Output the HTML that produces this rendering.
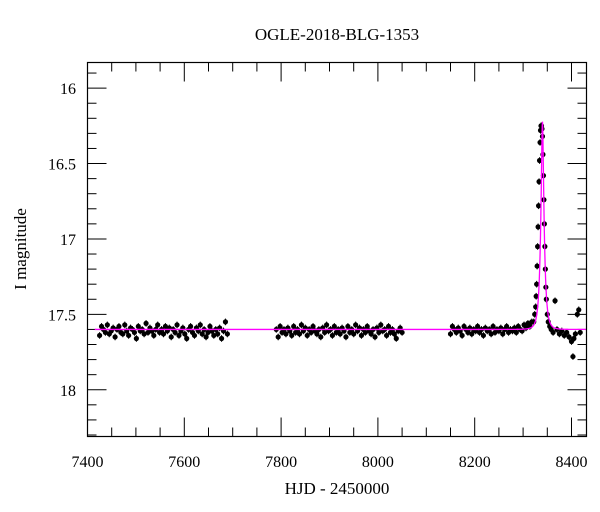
<!DOCTYPE html>
<html><head><meta charset="utf-8"><style>
html,body{margin:0;padding:0;background:#fff}
svg{display:block;font-family:"Liberation Serif",serif}
</style></head><body>
<svg id="chart" width="600" height="512" viewBox="0 0 600 512">
<text x="337" y="40" text-anchor="middle" font-size="17">OGLE-2018-BLG-1353</text>
<text x="337" y="494" text-anchor="middle" font-size="17">HJD - 2450000</text>
<text transform="translate(26,249) rotate(-90)" text-anchor="middle" font-size="17">I magnitude</text>
<g id="ticks"></g>
<g id="pts"></g>
<g id="model"></g>
<rect x="87.5" y="62.5" width="499" height="374" fill="none" stroke="#000" stroke-width="1.2"/>
</svg>
<script>
const xTicks=[7400,7600,7800,8000,8200,8400];
const yTicks=[16,16.5,17,17.5,18];
const seg1Start=7425, seg1Step=4;
const seg1Mag=[17.64,17.58,17.60,17.62,17.57,17.63,17.61,17.59,17.65,17.60,17.58,17.62,17.63,17.57,17.61,17.64,17.59,17.60,17.62,17.66,17.58,17.61,17.60,17.63,17.56,17.62,17.59,17.61,17.64,17.60,17.57,17.62,17.60,17.63,17.58,17.61,17.59,17.65,17.60,17.62,17.57,17.64,17.61,17.59,17.63,17.66,17.60,17.58,17.62,17.64,17.59,17.61,17.57,17.63,17.60,17.65,17.62,17.58,17.61,17.64,17.60,17.63,17.59,17.66,17.61,17.55,17.63];
const seg2Start=7790, seg2Step=4;
const seg2Mag=[17.60,17.65,17.58,17.62,17.60,17.63,17.59,17.61,17.64,17.58,17.62,17.60,17.63,17.57,17.61,17.59,17.64,17.60,17.62,17.58,17.61,17.63,17.60,17.65,17.59,17.62,17.57,17.61,17.60,17.64,17.58,17.62,17.60,17.63,17.59,17.61,17.65,17.58,17.62,17.60,17.63,17.57,17.61,17.59,17.64,17.60,17.62,17.58,17.61,17.63,17.60,17.65,17.59,17.62,17.57,17.61,17.60,17.64,17.58,17.62,17.60,17.63,17.66,17.61,17.59,17.62];
const seg3Start=8150, seg3Step=4;
const seg3Mag=[17.63,17.58,17.60,17.62,17.59,17.61,17.64,17.58,17.60,17.62,17.59,17.63,17.60,17.61,17.58,17.62,17.60,17.64,17.59,17.61,17.60,17.63,17.58,17.62,17.60,17.61,17.59,17.63,17.60,17.58,17.62,17.60,17.61,17.59,17.62,17.58,17.60,17.61,17.57,17.59,17.56,17.58,17.55];
const peakT=[8322,8324,8326,8327,8328,8329,8330,8331,8332,8333,8334,8335,8336,8337,8338,8339,8340,8341,8342,8343,8344,8345,8346,8347,8348,8350,8352,8355,8358,8362,8366,8370,8375,8380,8385,8390,8395,8400,8403,8405,8408,8412,8415,8418];
const peakMag=[17.55,17.50,17.45,17.38,17.30,17.18,17.05,16.92,16.78,16.62,16.48,16.36,16.28,16.25,16.25,16.27,16.32,16.44,16.58,16.74,16.90,17.05,17.20,17.32,17.40,17.50,17.55,17.58,17.60,17.62,17.41,17.60,17.63,17.61,17.64,17.62,17.65,17.68,17.78,17.66,17.63,17.50,17.47,17.62];
const modelT0=[8340], modelU0=[0.29], modelTE=[7], modelBase=[17.60];
const X0=7400,X1=8431,Y0=15.83,Y1=18.31,L=87.5,R=586.5,T=62.5,B=436.5;
const sx=v=>L+(v-X0)/(X1-X0)*(R-L);
const sy=v=>T+(v-Y0)/(Y1-Y0)*(B-T);
const NS='http://www.w3.org/2000/svg';
function mk(tag,attrs,parent){const e=document.createElementNS(NS,tag);for(const k in attrs)e.setAttribute(k,attrs[k]);parent.appendChild(e);return e;}
const tg=document.getElementById('ticks');
const svg=document.getElementById('chart');
for(let v=7400;v<=8430;v+=50){const maj=v%200===0;const l=maj?19:9;
 const a=mk('line',{x1:sx(v),x2:sx(v),y1:T,y2:T+l,stroke:'#000','stroke-width':1},tg);
 
 
 const b=mk('line',{x1:sx(v),x2:sx(v),y1:B,y2:B-l,stroke:'#000','stroke-width':1},tg);
 
 }
for(let i=0;i<=24;i++){const v=15.9+i*0.1;if(v>18.31)break;const maj=Math.abs(v*2-Math.round(v*2))<1e-6;const l=maj?19:9;
 const a=mk('line',{x1:L,x2:L+l,y1:sy(v),y2:sy(v),stroke:'#000','stroke-width':1},tg);
 
 
 const b=mk('line',{x1:R,x2:R-l,y1:sy(v),y2:sy(v),stroke:'#000','stroke-width':1},tg);
 
 }
xTicks.forEach(v=>{const t=mk('text',{x:sx(v),y:467,'text-anchor':'middle','font-size':16},svg);t.textContent=v;
 
 });
yTicks.forEach(v=>{const t=mk('text',{x:76,y:sy(v)+6,'text-anchor':'end','font-size':16},svg);t.textContent=v;
 
 });
const pg=document.getElementById('pts');
function pt(t,m){const x=sx(t),y=sy(m),e=0.022;
 const l=mk('line',{x1:x,x2:x,y1:sy(m-e),y2:sy(m+e),stroke:'#000','stroke-width':1},pg);
 
 
 const c=mk('circle',{cx:x,cy:y,r:2.6,fill:'#000'},pg);
 
 }
seg1Mag.forEach((m,i)=>pt(seg1Start+i*seg1Step,m));
seg2Mag.forEach((m,i)=>pt(seg2Start+i*seg2Step,m));
seg3Mag.forEach((m,i)=>pt(seg3Start+i*seg3Step,m));
peakT.forEach((t,i)=>pt(t,peakMag[i]));
let d='';
for(let t=7415;t<=8431;t+=0.5){const u=Math.hypot(modelU0[0],(t-modelT0[0])/modelTE[0]);const A=(u*u+2)/(u*Math.sqrt(u*u+4));const m=modelBase[0]-2.5*Math.log10(A);d+=(d?'L':'M')+sx(t).toFixed(2)+','+sy(m).toFixed(2);}
const p=mk('path',{d:d,fill:'none',stroke:'#ff00ff','stroke-width':1.3},document.getElementById('model'));


</script>
</body></html>
